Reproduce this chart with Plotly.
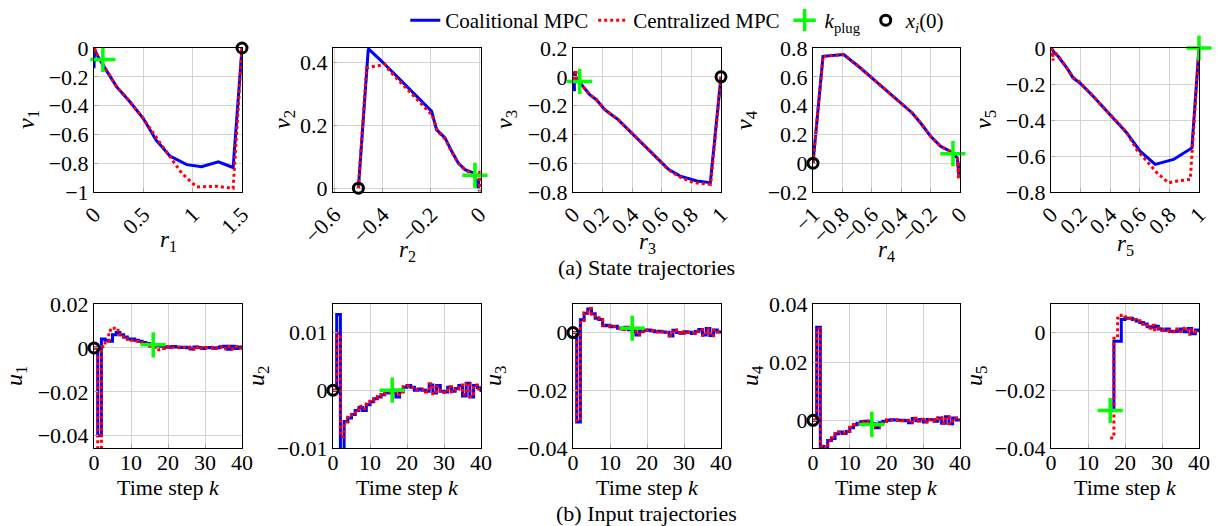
import plotly.graph_objects as go

# ---------------- data: state trajectories (r_i, v_i) ----------------
r1_coal = [1.50, 1.41, 1.26, 1.09, 0.94, 0.77, 0.63, 0.50, 0.36, 0.23, 0.12, 0.04, 0.005, 0.0, 0.002]
v1_coal = [0.00, -0.83, -0.79, -0.825, -0.81, -0.75, -0.64, -0.49, -0.37, -0.27, -0.15, -0.06, -0.01, -0.14, 0.0]
r1_cent = [1.50, 1.41, 1.24, 1.04, 0.89, 0.79, 0.67, 0.50, 0.36, 0.23, 0.12, 0.04, 0.005, 0.015, 0.0]
v1_cent = [0.00, -0.975, -0.96, -0.965, -0.87, -0.775, -0.66, -0.49, -0.37, -0.27, -0.15, -0.06, 0.0, -0.03, 0.02]

r2_coal = [-0.50, -0.459, -0.397, -0.328, -0.259, -0.197, -0.177, -0.142, -0.114, -0.087, -0.059, -0.025, -0.004, -0.002]
v2_coal = [0.0, 0.443, 0.398, 0.345, 0.292, 0.244, 0.186, 0.160, 0.117, 0.080, 0.059, 0.049, 0.001, 0.03]
r2_cent = [-0.50, -0.466, -0.432, -0.39, -0.37, -0.32, -0.255, -0.195, -0.172, -0.14, -0.112, -0.085, -0.057, -0.022, -0.001, 0.0, 0.002]
v2_cent = [0.0, 0.382, 0.387, 0.393, 0.371, 0.33, 0.28, 0.232, 0.18, 0.155, 0.112, 0.078, 0.056, 0.046, 0.05, -0.01, 0.04]

r3_coal = [1.0, 0.928, 0.837, 0.724, 0.645, 0.566, 0.475, 0.385, 0.305, 0.26, 0.215, 0.158, 0.113, 0.068, 0.023, 0.007, 0.01, 0.003]
v3_coal = [0.0, -0.735, -0.724, -0.690, -0.643, -0.563, -0.47, -0.378, -0.297, -0.263, -0.228, -0.159, -0.124, -0.067, -0.009, 0.037, -0.10, 0.0]
r3_cent = [1.0, 0.93, 0.814, 0.72, 0.645, 0.566, 0.475, 0.385, 0.305, 0.26, 0.215, 0.158, 0.113, 0.068, 0.023, 0.02, 0.005, 0.0]
v3_cent = [0.0, -0.747, -0.735, -0.695, -0.645, -0.563, -0.47, -0.378, -0.297, -0.263, -0.228, -0.159, -0.124, -0.067, -0.009, 0.05, -0.02, 0.01]

r4_coal = [-1.0, -0.932, -0.791, -0.677, -0.586, -0.495, -0.405, -0.325, -0.268, -0.2, -0.132, -0.064, -0.018, -0.007, -0.012]
v4_coal = [0.0, 0.742, 0.754, 0.661, 0.580, 0.499, 0.418, 0.349, 0.279, 0.187, 0.117, 0.082, 0.036, -0.09, 0.0]
r4_cent = [-1.0, -0.932, -0.791, -0.677, -0.586, -0.495, -0.405, -0.325, -0.268, -0.2, -0.132, -0.064, -0.018, -0.01, -0.006, -0.015]
v4_cent = [0.0, 0.742, 0.754, 0.661, 0.580, 0.499, 0.418, 0.349, 0.279, 0.187, 0.117, 0.082, 0.036, -0.11, -0.02, 0.01]

r5_coal = [1.0, 0.952, 0.828, 0.704, 0.602, 0.511, 0.398, 0.285, 0.195, 0.149, 0.115, 0.081, 0.048, 0.025, 0.009, 0.0]
v5_coal = [0.0, -0.555, -0.619, -0.647, -0.573, -0.471, -0.37, -0.268, -0.194, -0.166, -0.12, -0.083, -0.046, -0.028, -0.009, 0.0]
r5_cent = [1.0, 0.941, 0.851, 0.794, 0.715, 0.624, 0.579, 0.511, 0.398, 0.285, 0.195, 0.149, 0.115, 0.081, 0.048, 0.025, 0.009, 0.015, 0.0]
v5_cent = [0.0, -0.73, -0.739, -0.749, -0.693, -0.61, -0.564, -0.468, -0.367, -0.265, -0.19, -0.163, -0.118, -0.08, -0.044, -0.026, -0.008, -0.07, 0.0]

# k_plug markers and initial states on the state plots
plug_state = [(0.09, -0.08), (-0.018, 0.041), (0.045, -0.032), (-0.048, 0.066), (1.0, 0.0)]
init_state = [(1.5, 0.0), (-0.5, 0.0), (1.0, 0.0), (-1.0, 0.0), None]

# ---------------- data: input trajectories u_i(k) ----------------
u1_coal = [0, -0.040, 0.004, 0.0035, 0.003, 0.006, 0.007, 0.006, 0.005, 0.004, 0.004, 0.0035, 0.003, 0.0025,
           0.002, 0.0015, 0.0012, 0.001, 0.0008, 0.0005, 0.0003, 0.0006, 0.0004, 0.0002, 0.0003, 0.0001, -0.0005,
           0.0004, 0.0002, -0.0003, 0.0001, 0.0002, -0.0002, 0.0001, 0.0005, 0.0008, -0.0006, 0.0007, -0.0003, 0.0004, 0.0001]
u1_cent = [0, -0.050, 0.0005, 0.003, 0.008, 0.009, 0.008, 0.006, 0.005, 0.004, 0.0035, 0.003, 0.0025, 0.002,
           0.0015, 0.0008, 0.0003, -0.0008, -0.0003, 0.0004, 0.0006, 0.0003, 0.0002, 0.0001, 0.0002, 0.0001, 0.0004,
           -0.0006, 0.0005, -0.0002, 0.0002, 0.0001, 0.0003, -0.0002, 0.0004, -0.0004, 0.0007, -0.0005, 0.0006, -0.0002, 0.0001]
u2_coal = [0, 0.0131, -0.012, -0.0054, -0.0048, -0.0042, -0.0035, -0.003, -0.0035, -0.0025, -0.002, -0.0015,
           -0.0012, -0.0008, -0.0003, -0.0005, 0.0, -0.0012, 0.0, 0.0005, 0.0008, 0.0005, 0.0, 0.0002, 0.0, -0.0002,
           0.0009, -0.0005, 0.0008, -0.0002, -0.0003, 0.0005, -0.0002, 0.0003, 0.0008, -0.0010, 0.0012, -0.0012, 0.0008, 0.0004, -0.0003]
u2_cent = [0, 0.0098, -0.008, -0.0055, -0.0047, -0.004, -0.0034, -0.0028, -0.0032, -0.0024, -0.0019, -0.0014,
           -0.0011, -0.0007, -0.0004, -0.0003, 0.0002, -0.0008, -0.0003, 0.0006, 0.0007, 0.0004, 0.0001, 0.0001, 0.0001,
           -0.0003, 0.0011, -0.0006, 0.0006, -0.0001, -0.0004, 0.0006, -0.0003, 0.0002, 0.0009, -0.0008, 0.0011, -0.0011, 0.0009, 0.0002, -0.0002]
u3_coal = [0, -0.031, 0.0044, 0.0067, 0.0082, 0.0065, 0.005, 0.0045, 0.0024, 0.0025, 0.002, 0.0022, 0.0015,
           0.0012, 0.0018, 0.001, 0.0005, -0.0008, 0.0005, 0.0008, 0.0009, 0.0006, 0.0003, 0.0005, 0.0002, 0.0001,
           -0.0012, 0.0008, 0.0, -0.0002, 0.0003, 0.0001, -0.0003, 0.0004, 0.0011, -0.0008, 0.0014, -0.0010, 0.0009, 0.0002, -0.0003]
u3_cent = [0, -0.0305, 0.0042, 0.0068, 0.0083, 0.0064, 0.0051, 0.0044, 0.0025, 0.0024, 0.0021, 0.0021, 0.0016,
           0.0011, 0.0017, 0.0011, 0.0006, -0.0006, 0.0003, 0.0009, 0.0008, 0.0007, 0.0002, 0.0004, 0.0003, 0.0,
           -0.0010, 0.0009, -0.0001, -0.0003, 0.0004, 0.0, -0.0002, 0.0005, 0.0010, -0.0009, 0.0013, -0.0011, 0.0008, 0.0003, -0.0002]
u4_coal = [0, 0.032, -0.009, -0.0098, -0.0069, -0.0062, -0.0046, -0.004, -0.0045, -0.0038, -0.0025, -0.0015,
           -0.001, -0.0005, -0.0003, -0.0005, -0.0012, -0.0025, -0.0008, -0.0003, 0.0, 0.0002, 0.0001, 0.0, 0.0,
           -0.0001, -0.0008, 0.0006, -0.0001, 0.0003, -0.0006, 0.0003, 0.0002, -0.0003, 0.0008, -0.0010, 0.0012, -0.0012, 0.0008, 0.0001, -0.0002]
u4_cent = [0, 0.0315, -0.0088, -0.0096, -0.007, -0.006, -0.0047, -0.0041, -0.0044, -0.0037, -0.0024, -0.0016,
           -0.0011, -0.0006, -0.0002, -0.0004, -0.0010, -0.0022, -0.0009, -0.0004, 0.0001, 0.0001, 0.0, 0.0001, -0.0001,
           0.0, -0.0006, 0.0007, -0.0002, 0.0004, -0.0005, 0.0002, 0.0003, -0.0002, 0.0009, -0.0009, 0.0011, -0.0011, 0.0007, 0.0002, -0.0001]
k5_start = 16
u5_coal = [-0.027, -0.003, -0.003, 0.0045, 0.005, 0.005, 0.0045, 0.004, 0.0035, 0.003, 0.002, 0.0018, 0.0022,
           0.0012, 0.0008, 0.0012, 0.0005, 0.0004, 0.0006, 0.0012, 0.0003, 0.0014, -0.0004, 0.0009, 0.0002]
u5_cent = [-0.0365, -0.002, 0.005, 0.006, 0.0055, 0.005, 0.0045, 0.004, 0.003, 0.0025, 0.0015, 0.0025, 0.001,
           0.0015, 0.0008, 0.0006, 0.0004, 0.0003, 0.0012, 0.0004, 0.0015, -0.0006, 0.001, 0.0001, 0.0002]

k_plug = 16
plug_input = [0.0014, 0.0, 0.0015, -0.0014, -0.027]
init_input = [(0, 0.0), (0, 0.0), (0, 0.0), (0, 0.0), None]

# axis settings (ranges / ticks)
top_xrange = [[0, 1.5], [-0.605, 0.007], [0, 1], [-1, 0], [0, 1]]
top_yrange = [[-1, 0], [-0.012, 0.445], [-0.8, 0.2], [-0.2, 0.8], [-0.8, 0]]
top_xticks = [[0, 0.5, 1, 1.5], [-0.6, -0.4, -0.2, 0], [0, 0.2, 0.4, 0.6, 0.8, 1],
              [-1, -0.8, -0.6, -0.4, -0.2, 0], [0, 0.2, 0.4, 0.6, 0.8, 1]]
top_yticks = [[-1, -0.8, -0.6, -0.4, -0.2, 0], [0, 0.2, 0.4], [-0.8, -0.6, -0.4, -0.2, 0, 0.2],
              [-0.2, 0, 0.2, 0.4, 0.6, 0.8], [-0.8, -0.6, -0.4, -0.2, 0]]
bot_yrange = [[-0.0456, 0.02], [-0.01, 0.0149], [-0.04, 0.0099], [-0.0095, 0.04], [-0.04, 0.0099]]
bot_yticks = [[-0.04, -0.02, 0, 0.02], [-0.01, 0, 0.01], [-0.04, -0.02, 0], [0, 0.02, 0.04], [-0.04, -0.02, 0]]
k_ticks = [0, 10, 20, 30, 40]

states = [(r1_coal, v1_coal, r1_cent, v1_cent), (r2_coal, v2_coal, r2_cent, v2_cent),
          (r3_coal, v3_coal, r3_cent, v3_cent), (r4_coal, v4_coal, r4_cent, v4_cent),
          (r5_coal, v5_coal, r5_cent, v5_cent)]
inputs = [(u1_coal, u1_cent), (u2_coal, u2_cent), (u3_coal, u3_cent), (u4_coal, u4_cent), (u5_coal, u5_cent)]

# ---------------- layout geometry (pixels) ----------------
W, H = 1219, 526
col_px = [(94, 242), (333, 481), (573, 721), (813, 960), (1051, 1199)]
top_py = (48, 192)
bot_py = (304, 448)
r_title_py = [241, 251, 243, 251, 245]

FONT = "Liberation Serif"
FS = 22
BLUE = "#0000ff"
RED = "#ff0000"
GREEN = "#00ff00"

def px2x(p):
    return p / W

def py2y(p):
    return 1 - p / H

fig = go.Figure()
layout = dict(width=W, height=H, margin=dict(l=0, r=0, t=0, b=0, autoexpand=False),
              paper_bgcolor="white", plot_bgcolor="white",
              font=dict(family=FONT, size=FS, color="black"))

def axis_common():
    return dict(showline=True, linecolor="black", linewidth=1, mirror=True,
                showgrid=True, gridcolor="#d4d4d4", gridwidth=1, zeroline=False,
                ticks="inside", ticklen=4, tickcolor="#aaaaaa", automargin=False,
                tickfont=dict(family=FONT, size=FS, color="black"))

annotations = []
for i in range(5):
    for row in range(2):
        n = i + 1 + 5 * row
        xa = "x" if n == 1 else f"x{n}"
        ya = "y" if n == 1 else f"y{n}"
        xkey = "xaxis" if n == 1 else f"xaxis{n}"
        ykey = "yaxis" if n == 1 else f"yaxis{n}"
        x0, x1 = col_px[i]
        py = top_py if row == 0 else bot_py
        xd = axis_common()
        yd = axis_common()
        xd.update(domain=[px2x(x0), px2x(x1)], anchor=ya)
        yd.update(domain=[py2y(py[1]), py2y(py[0])], anchor=xa)
        show = (n == 1)
        if row == 0:
            rc, vc, rz, vz = states[i]
            xd.update(range=top_xrange[i], tickvals=top_xticks[i], tickangle=-45)
            yd.update(range=top_yrange[i], tickvals=top_yticks[i])
            fig.add_trace(go.Scatter(x=rc, y=vc, mode="lines", line=dict(color=BLUE, width=3),
                                     name="Coalitional MPC", showlegend=show, xaxis=xa, yaxis=ya))
            fig.add_trace(go.Scatter(x=rz, y=vz, mode="lines", line=dict(color=RED, width=3, dash="dot"),
                                     name="Centralized MPC", showlegend=show, xaxis=xa, yaxis=ya))
            px_, py_ = plug_state[i]
            fig.add_trace(go.Scatter(x=[px_], y=[py_], mode="markers", cliponaxis=False,
                                     marker=dict(symbol="cross-thin", size=18, line=dict(color=GREEN, width=3.5)),
                                     name="<i>k</i><sub>plug</sub>", showlegend=show, xaxis=xa, yaxis=ya))
            if init_state[i] is not None:
                ix, iy = init_state[i]
                fig.add_trace(go.Scatter(x=[ix], y=[iy], mode="markers", cliponaxis=False,
                                         marker=dict(symbol="circle-open", size=10, color="black",
                                                     line=dict(color="black", width=3)),
                                         name="<i>x<sub>i</sub></i>(0)", showlegend=show, xaxis=xa, yaxis=ya))
            annotations.append(dict(text=f"<i>r</i><sub>{i+1}</sub>", x=px2x((x0 + x1) / 2), y=py2y(r_title_py[i]),
                                    xref="paper", yref="paper", showarrow=False, xanchor="center",
                                    yanchor="middle", font=dict(family=FONT, size=FS + 1)))
        else:
            uc, uz = inputs[i]
            ks = k5_start if i == 4 else 0
            kc = list(range(ks, ks + len(uc)))
            kz = list(range(ks, ks + len(uz)))
            xd.update(range=[0, 40], tickvals=k_ticks, ticklabelstandoff=-5)
            yd.update(range=bot_yrange[i], tickvals=bot_yticks[i])
            fig.add_trace(go.Scatter(x=kc, y=uc, mode="lines", line=dict(color=BLUE, width=3, shape="hv"),
                                     showlegend=False, xaxis=xa, yaxis=ya))
            fig.add_trace(go.Scatter(x=kz, y=uz, mode="lines", line=dict(color=RED, width=3, dash="dot", shape="hv"),
                                     showlegend=False, xaxis=xa, yaxis=ya))
            fig.add_trace(go.Scatter(x=[k_plug], y=[plug_input[i]], mode="markers", cliponaxis=False,
                                     marker=dict(symbol="cross-thin", size=18, line=dict(color=GREEN, width=3.5)),
                                     showlegend=False, xaxis=xa, yaxis=ya))
            if init_input[i] is not None:
                ix, iy = init_input[i]
                fig.add_trace(go.Scatter(x=[ix], y=[iy], mode="markers", cliponaxis=False,
                                         marker=dict(symbol="circle-open", size=10, color="black",
                                                     line=dict(color="black", width=3)),
                                         showlegend=False, xaxis=xa, yaxis=ya))
            annotations.append(dict(text="Time step <i>k</i>", x=px2x((x0 + x1) / 2), y=py2y(487),
                                    xref="paper", yref="paper", showarrow=False, xanchor="center",
                                    yanchor="middle", font=dict(family=FONT, size=FS)))
        layout[xkey] = xd
        layout[ykey] = yd

# y-axis titles
vx = [28, 284, 506, 746, 985]
ux = [16, 258, 495, 752, 976]
for i in range(5):
    annotations.append(dict(text=f"<i>v</i><sub>{i+1}</sub>", x=px2x(vx[i]), y=py2y(120), textangle=-90,
                            xref="paper", yref="paper", showarrow=False, xanchor="center", yanchor="middle",
                            font=dict(family=FONT, size=FS + 2)))
    annotations.append(dict(text=f"<i>u</i><sub>{i+1}</sub>", x=px2x(ux[i]), y=py2y(376), textangle=-90,
                            xref="paper", yref="paper", showarrow=False, xanchor="center", yanchor="middle",
                            font=dict(family=FONT, size=FS + 2)))

annotations.append(dict(text="(a) State trajectories", x=px2x(646), y=py2y(267), xref="paper", yref="paper",
                        showarrow=False, xanchor="center", yanchor="middle", font=dict(family=FONT, size=FS)))
annotations.append(dict(text="(b) Input trajectories", x=px2x(646), y=py2y(513), xref="paper", yref="paper",
                        showarrow=False, xanchor="center", yanchor="middle", font=dict(family=FONT, size=FS)))

layout["annotations"] = annotations
layout["legend"] = dict(orientation="h", x=0.556, xanchor="center", y=1.0, yanchor="top",
                        font=dict(family=FONT, size=FS - 1), bgcolor="rgba(0,0,0,0)",
                        itemwidth=30, tracegroupgap=0)
fig.update_layout(**layout)
fig.write_html("out.html", config={"displayModeBar": False},
               post_script="document.documentElement.style.margin='0';document.body.style.margin='0';"
                           "document.body.style.padding='0';document.body.style.overflow='hidden';")
